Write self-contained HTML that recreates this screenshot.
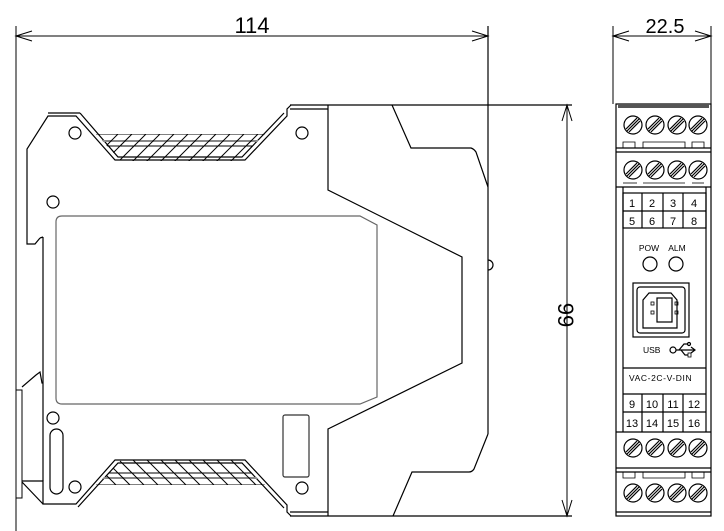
<!DOCTYPE html>
<html><head><meta charset="utf-8"><style>
html,body{margin:0;padding:0;background:#fff;width:724px;height:531px;overflow:hidden}
svg{display:block}
text{font-family:"Liberation Sans",sans-serif;fill:#000}
</style></head><body>
<svg width="724" height="531" viewBox="0 0 724 531" xmlns="http://www.w3.org/2000/svg">
<defs>
<clipPath id="ch1"><polygon points="96,134 265,134 238,161 121,161"/></clipPath>
<clipPath id="ch2"><polygon points="96,485 265,485 238,460 121,460"/></clipPath>
<g id="sr">
<circle cx="633" cy="0" r="9"/><line x1="627" y1="6" x2="639" y2="-6"/><line x1="629" y1="7" x2="640" y2="-4"/><line x1="626" y1="4" x2="637" y2="-7"/>
<circle cx="655" cy="0" r="9"/><line x1="649" y1="6" x2="661" y2="-6"/><line x1="651" y1="7" x2="662" y2="-4"/><line x1="648" y1="4" x2="659" y2="-7"/>
<circle cx="677" cy="0" r="9"/><line x1="671" y1="6" x2="683" y2="-6"/><line x1="673" y1="7" x2="684" y2="-4"/><line x1="670" y1="4" x2="681" y2="-7"/>
<circle cx="698" cy="0" r="9"/><line x1="692" y1="6" x2="704" y2="-6"/><line x1="694" y1="7" x2="705" y2="-4"/><line x1="691" y1="4" x2="702" y2="-7"/>
</g>
</defs>
<g fill="none" stroke="#000" stroke-width="1.2">
<line x1="16" y1="26" x2="16" y2="531" stroke-width="1"/>
<line x1="488" y1="26" x2="488" y2="434"/>
<line x1="16" y1="36" x2="488" y2="36" stroke-width="1"/>
<polyline points="32,31 16,36 32,41" stroke-width="1"/>
<polyline points="472,31 488,36 472,41" stroke-width="1"/>
<line x1="290" y1="105" x2="572" y2="105"/>
<line x1="290" y1="516" x2="572" y2="516"/>
<line x1="567" y1="105" x2="567" y2="516" stroke-width="1"/>
<polyline points="562,121 567,105 572,121" stroke-width="1"/>
<polyline points="562,500 567,516 572,500" stroke-width="1"/>

<polyline points="43,237 43,481"/>
<polyline points="40,238 35,244 27,244 27,149 48,116 76,116 115,160 245,160 287,116 287,109 291,105"/>
<polyline points="80,113 118,157 242,157 284,113"/>
<line x1="48" y1="113" x2="80" y2="113"/>
<polyline points="40,238 43,237"/>
<polyline points="22,481 43,481 43,504 76,504 115,460 245,460 287,505 287,512 291,516"/>
<polyline points="22,482 43,504"/>
<polyline points="78,507 118,463 242,463 284,508"/>
<line x1="290" y1="512" x2="328" y2="512"/>
<line x1="290" y1="109" x2="328" y2="109"/>
<rect x="16" y="390" width="6" height="108" stroke-width="1"/>
<polyline points="22,387 36,375 40,372 42,383 43,383"/>
<polyline points="328,105 328,190 462,257 462,363 328,429 328,516"/>
<path d="M392,105 L411,148 L471,148 Q474,149 476,152 L488,187"/>
<path d="M488,434 L474,469 Q472,472 469,472 L412,472 L393,516"/>
<path d="M488,260 A5,5 0 0 1 488,270"/>
<path d="M62,216 L360,216 L377,225 L377,397 L360,404 L62,404 Q56,404 56,398 L56,222 Q56,216 62,216 Z" stroke="#666"/>
<circle cx="75" cy="133" r="6"/>
<circle cx="302" cy="133" r="6"/>
<circle cx="53" cy="202" r="6"/>
<circle cx="53" cy="418" r="6"/>
<circle cx="75" cy="487" r="6"/>
<circle cx="302" cy="488" r="6"/>
<rect x="50" y="429" width="13" height="65" rx="6.5"/>
<rect x="283" y="415" width="26" height="62" rx="2" stroke="#333"/>
</g>
<g stroke="#000" stroke-width="1" clip-path="url(#ch1)">
<line x1="96" y1="134" x2="265" y2="134"/>
<line x1="96" y1="141" x2="265" y2="141" stroke="#888" stroke-width="2"/>
<line x1="96" y1="146" x2="265" y2="146"/>
<line x1="104" y1="162" x2="132" y2="134"/><line x1="118" y1="162" x2="146" y2="134"/>
<line x1="132" y1="162" x2="160" y2="134"/><line x1="146" y1="162" x2="174" y2="134"/>
<line x1="160" y1="162" x2="188" y2="134"/><line x1="174" y1="162" x2="202" y2="134"/>
<line x1="188" y1="162" x2="216" y2="134"/><line x1="202" y1="162" x2="230" y2="134"/>
<line x1="216" y1="162" x2="244" y2="134"/><line x1="230" y1="162" x2="258" y2="134"/>
<line x1="90" y1="162" x2="118" y2="134"/>
</g>
<g stroke="#000" stroke-width="1" clip-path="url(#ch2)">
<line x1="96" y1="485" x2="265" y2="485"/>
<line x1="96" y1="478" x2="265" y2="478" stroke="#888" stroke-width="2"/>
<line x1="96" y1="473" x2="265" y2="473"/>
<line x1="104" y1="459" x2="132" y2="487"/><line x1="118" y1="459" x2="146" y2="487"/>
<line x1="132" y1="459" x2="160" y2="487"/><line x1="146" y1="459" x2="174" y2="487"/>
<line x1="160" y1="459" x2="188" y2="487"/><line x1="174" y1="459" x2="202" y2="487"/>
<line x1="188" y1="459" x2="216" y2="487"/><line x1="202" y1="459" x2="230" y2="487"/>
<line x1="216" y1="459" x2="244" y2="487"/><line x1="230" y1="459" x2="258" y2="487"/>
<line x1="90" y1="459" x2="118" y2="487"/>
</g>
<text x="252" y="33" font-size="22" text-anchor="middle">114</text>
<text transform="translate(558,315) rotate(90)" font-size="22" text-anchor="middle">99</text>

<g fill="none" stroke="#000" stroke-width="1.2">
<line x1="613" y1="26" x2="613" y2="104" stroke-width="1"/>
<line x1="711" y1="26" x2="711" y2="104" stroke-width="1"/>
<line x1="613" y1="36" x2="711" y2="36" stroke-width="1"/>
<polyline points="629,31 613,36 629,41" stroke-width="1"/>
<polyline points="695,31 711,36 695,41" stroke-width="1"/>
<rect x="616" y="104" width="95" height="412"/>
<rect x="618" y="104" width="91" height="4" fill="#555" stroke="none"/>
<line x1="616" y1="148" x2="711" y2="148"/>
<line x1="616" y1="152" x2="711" y2="152"/>
<line x1="616" y1="187" x2="711" y2="187"/>
<line x1="623" y1="187" x2="623" y2="432"/>
<line x1="706" y1="187" x2="706" y2="432"/>
<line x1="616" y1="432" x2="711" y2="432"/>
<line x1="616" y1="468" x2="711" y2="468"/>
<line x1="616" y1="472" x2="711" y2="472"/>
<line x1="616" y1="512" x2="711" y2="512"/>
<path d="M623,148 v-6 h12 v6 M643,148 v-6 h42 v6 M692,148 v-6 h12 v6" stroke-width="0.8"/>
<path d="M623,472 v6 h12 v-6 M643,472 v6 h42 v-6 M692,472 v6 h12 v-6" stroke-width="0.8"/>
<line x1="623" y1="183" x2="637" y2="183" stroke-width="0.8"/>
<line x1="643" y1="183" x2="685" y2="183" stroke-width="0.8"/>
<line x1="692" y1="183" x2="704" y2="183" stroke-width="0.8"/>
<rect x="623" y="193" width="83" height="35"/>
<line x1="623" y1="211" x2="706" y2="211"/>
<line x1="642" y1="193" x2="642" y2="228"/><line x1="663" y1="193" x2="663" y2="228"/><line x1="683" y1="193" x2="683" y2="228"/>
<line x1="623" y1="368" x2="706" y2="368"/>
<line x1="623" y1="394" x2="706" y2="394"/>
<line x1="623" y1="412" x2="706" y2="412"/>
<line x1="642" y1="394" x2="642" y2="432"/><line x1="663" y1="394" x2="663" y2="432"/><line x1="683" y1="394" x2="683" y2="432"/>
<circle cx="650" cy="264" r="7"/>
<circle cx="676" cy="264" r="7"/>
<rect x="633" y="283" width="56" height="54"/>
<rect x="637" y="287" width="48" height="46" rx="3"/>
<path d="M649,293 L671,293 L677,300 L677,328 L643,328 L643,300 Z"/>
<rect x="657" y="298" width="15" height="24"/>
<rect x="651" y="302" width="3" height="3" stroke-width="0.8"/><rect x="651" y="311" width="3" height="3" stroke-width="0.8"/>
<rect x="675" y="302" width="3" height="3" stroke-width="0.8"/><rect x="675" y="311" width="3" height="3" stroke-width="0.8"/>
<circle cx="673" cy="350" r="3"/>
<line x1="676" y1="350" x2="694" y2="350"/>
<polyline points="691,347 695,350 691,353"/>
<polyline points="679,350 684,344 688,344"/>
<circle cx="689" cy="344" r="1.5"/>
<polyline points="681,350 685,355 688,355"/>
<rect x="688" y="353" width="3" height="4" stroke-width="0.8"/>
</g>
<g fill="#fff" stroke="#000" stroke-width="1.2">
<use href="#sr" y="125"/><use href="#sr" y="170"/><use href="#sr" y="448"/><use href="#sr" y="493"/>
</g>
<g font-size="11" text-anchor="middle">
<text x="632" y="207">1</text><text x="652" y="207">2</text><text x="673" y="207">3</text><text x="694" y="207">4</text>
<text x="632" y="225">5</text><text x="652" y="225">6</text><text x="673" y="225">7</text><text x="694" y="225">8</text>
<text x="632" y="408">9</text><text x="652" y="408">10</text><text x="673" y="408">11</text><text x="694" y="408">12</text>
<text x="632" y="427">13</text><text x="652" y="427">14</text><text x="673" y="427">15</text><text x="694" y="427">16</text>
</g>
<g font-size="8.5">
<text x="649" y="251" text-anchor="middle">POW</text>
<text x="677" y="251" text-anchor="middle">ALM</text>
<text x="643" y="353">USB</text>
<text x="629" y="381" letter-spacing="0.6">VAC-2C-V-DIN</text>
</g>
<text x="665" y="33" font-size="20" text-anchor="middle">22.5</text>
</svg>
</body></html>
